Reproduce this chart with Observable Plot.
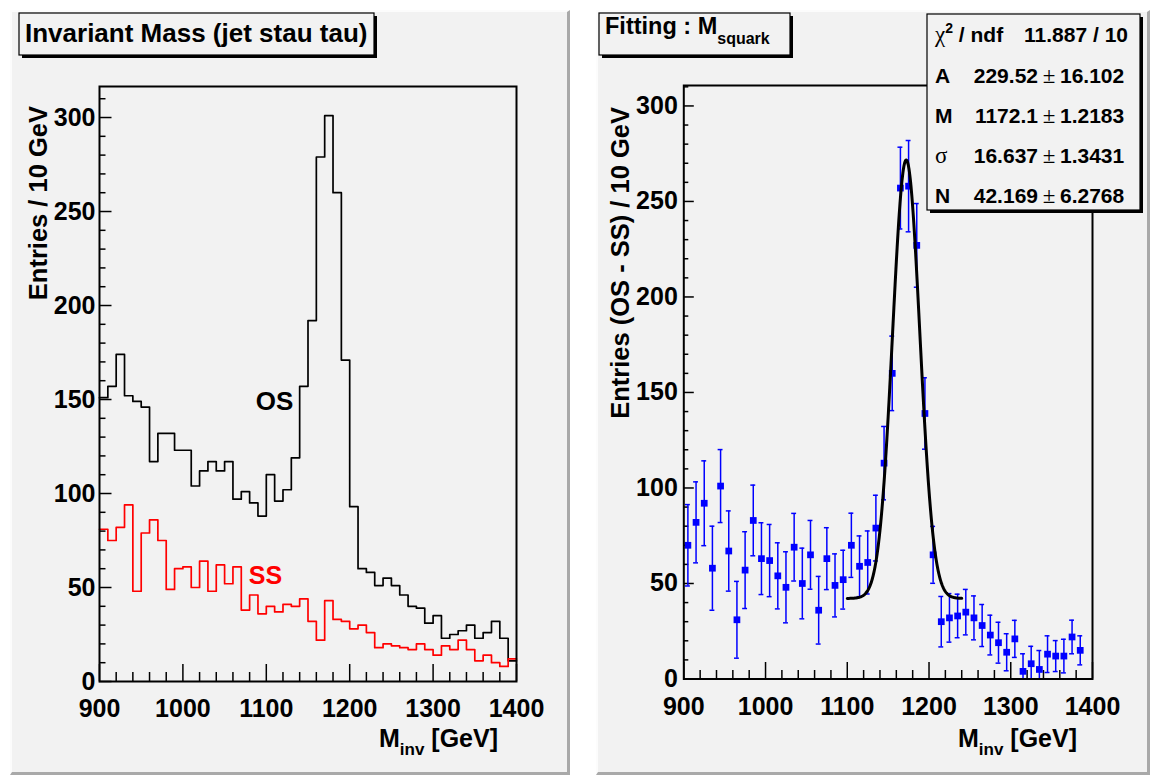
<!DOCTYPE html>
<html><head><meta charset="utf-8">
<script src="https://cdn.jsdelivr.net/npm/d3@7"></script>
<script src="https://cdn.jsdelivr.net/npm/@observablehq/plot@0.6"></script>
<style>
html,body{margin:0;padding:0;background:#ffffff;}
#root{position:relative;width:1159px;height:780px;overflow:hidden;font-family:"Liberation Sans",Arial,sans-serif;}
.pad{position:absolute;background:#f2f2f2;box-sizing:border-box;border-right:3px solid #a9a9a9;border-bottom:3px solid #a9a9a9;border-left:2px solid #fcfcfc;border-top:2px solid #fcfcfc;}
#root svg{position:absolute;left:0;top:0;}
</style></head><body><div id="root"></div>
<script>
// ---------------- data ----------------
const binStart = [900,910,920,930,940,950,960,970,980,990,1000,1010,1020,1030,1040,1050,1060,1070,1080,1090,
  1100,1110,1120,1130,1140,1150,1160,1170,1180,1190,1200,1210,1220,1230,1240,1250,1260,1270,1280,1290,
  1300,1310,1320,1330,1340,1350,1360,1370,1380,1390];
const binWidth = 10;
const osCounts = [151,157,174,152,149,146,117,132,132,123,123,104,112,117,112,117,97,101,95,88,
  110,96,102,119,157,192,279,301,260,171,93,60,58,51,55,51,46,40,39,31,
  35,23,25,27,30,23,26,32,23,11];
const ssCounts = [81,75,82,94,48,79,86,75,49,60,61,50,64,48,62,52,61,38,46,36,
  40,37,41,40,44,32,22,43,33,32,28,30,26,18,20,19,18,17,20,17,
  14,19,17,22,17,11,14,10,8,12];
const diffValues = [70,82,92,58,101,67,31,57,83,63,62,54,48,69,50,65,36,63,49,52,
  70,59,61,79,113,160,257,258,227,139,65,30,32,33,35,32,28,23,19,14,
  21,4,8,5,13,12,12,22,15,-1];
const diffErrors = [21.3,21.2,22.2,22.0,19.1,21.0,20.1,20.1,18.5,18.8,18.9,17.3,18.6,17.7,18.5,18.0,17.7,16.2,16.5,15.4,
  16.8,15.9,16.5,17.2,19.2,19.5,21.4,23.9,21.9,18.7,14.9,13.2,12.7,11.4,11.9,11.5,11.0,10.4,10.7,9.7,
  9.7,9.2,9.1,9.9,9.6,8.1,8.8,8.8,7.6,6.8];
const xMajorTicks = [900,1000,1100,1200,1300,1400];
const xMinorTicks = [920,940,960,980,1020,1040,1060,1080,1120,1140,1160,1180,1220,1240,1260,1280,1320,1340,1360,1380];
const yMajorTicks = [0,50,100,150,200,250,300];
const yMinorTicks = [10,20,30,40,60,70,80,90,110,120,130,140,160,170,180,190,210,220,230,240,260,270,280,290,310];
const histLabels = [{text:"OS", x:1110, y:149, color:"#000000", size:26},{text:"SS", x:1099, y:56, color:"#ff0000", size:25}];
// fit parameters (Gaussian + constant)
const fitA = 229.52, fitM = 1172.1, fitSigma = 16.637, fitN = 42.169;
const fitRange = [1100, 1240];
const statLabels = ["χ2 / ndf","A","M","σ","N"];
const statValues = ["11.887 / 10","229.52","1172.1","16.637","42.169"];
const statErrors = ["","16.102","1.2183","1.3431","6.2768"];

// ---------------- layout ----------------
const W = 1159, H = 780;
const root = document.getElementById("root");
function pad(l,t,w,h){const d=document.createElement("div");d.className="pad";Object.assign(d.style,{left:l+"px",top:t+"px",width:w+"px",height:h+"px"});root.appendChild(d);}
pad(10,10,560,765);
pad(596,10,554,765);

const FONT = "Liberation Sans, Arial, Helvetica, sans-serif";
const osTable = binStart.map((x,i)=>({x, y: osCounts[i]})).concat([{x: binStart[49]+binWidth, y: osCounts[49]}]);
const ssTable = binStart.map((x,i)=>({x, y: ssCounts[i]})).concat([{x: binStart[49]+binWidth, y: ssCounts[49]}]);
const diffTable = binStart.map((x,i)=>({x: x + binWidth/2, y: diffValues[i], e: diffErrors[i]})).filter(d => d.y >= 0);
const fitCurve = d3.range(fitRange[0], fitRange[1] + 0.01, 0.5).map(x => ({x, y: fitA*Math.exp(-0.5*((x-fitM)/fitSigma)**2) + fitN}));

function frameMarks(fw, fh, xMaj, xMin, yMaj, yMin, yPad){
  return [
    Plot.tickX(xMinorTicks, {x: d=>d, insetTop: fh - xMin, stroke:"black", strokeWidth:1.5}),
    Plot.tickX(xMajorTicks, {x: d=>d, insetTop: fh - xMaj, stroke:"black", strokeWidth:1.5}),
    Plot.tickY(yMinorTicks, {y: d=>d, insetRight: fw - yMin, stroke:"black", strokeWidth:1.5}),
    Plot.tickY(yMajorTicks, {y: d=>d, insetRight: fw - yMaj, stroke:"black", strokeWidth:1.5}),
    Plot.axisX({ticks: xMajorTicks, label: null, tickSize:0, tickPadding:18, tickFormat: d=>String(d), fontSize:25, fontWeight:"bold", fill:"black"}),
    Plot.axisY({ticks: yMajorTicks, label: null, tickSize:0, tickPadding:yPad, tickFormat: d=>String(d), fontSize:25, fontWeight:"bold", fill:"black"})
  ];
}

// left: histogram
const L = {l:99, r:516, t:86, b:681};
const leftPlot = Plot.plot({
  width: W, height: H,
  marginLeft: L.l, marginRight: W - L.r, marginTop: L.t, marginBottom: H - L.b,
  x: {domain:[900,1400], label: null}, y: {domain:[0,316.5], label: null},
  style: {background:"transparent", fontFamily: FONT, fontSize:"25px", fontWeight:"bold", color:"black", overflow:"visible"},
  marks: [
    ...frameMarks(L.r-L.l, L.b-L.t, 17, 9, 12.5, 6.5, 4),
    Plot.line(osTable, {x:"x", y:"y", curve:"step-after", stroke:"#000000", strokeWidth:1.7}),
    Plot.line(ssTable, {x:"x", y:"y", curve:"step-after", stroke:"#ff0000", strokeWidth:1.7}),
    Plot.text(histLabels, {x:"x", y:"y", text:"text", fill:"color", fontSize: d=>d.size, fontWeight:"bold", fontFamily: FONT}),
    Plot.frame({stroke:"black", strokeWidth:2})
  ]
});
root.appendChild(leftPlot);

// right: OS - SS with fit
const R = {l:683.3, r:1092, t:85, b:678.5};
const rightPlot = Plot.plot({
  width: W, height: H,
  marginLeft: R.l, marginRight: W - R.r, marginTop: R.t, marginBottom: H - R.b,
  x: {domain:[900,1400], label: null}, y: {domain:[0,310.7], label: null},
  style: {background:"transparent", fontFamily: FONT, fontSize:"25px", fontWeight:"bold", color:"black", overflow:"visible"},
  marks: [
    ...frameMarks(R.r-R.l, R.b-R.t, 16.5, 8.5, 10.5, 5, 6),
    Plot.ruleX(diffTable, {x:"x", y1: d=>Math.max(0, d.y - d.e), y2: d=>d.y + d.e, stroke:"#0000ff", strokeWidth:1.5}),
    Plot.ruleY(diffTable, {y: d=>d.y + d.e, x1: d=>d.x - 3, x2: d=>d.x + 3, stroke:"#0000ff", strokeWidth:1.5}),
    Plot.ruleY(diffTable.filter(d => d.y - d.e >= 0), {y: d=>d.y - d.e, x1: d=>d.x - 3, x2: d=>d.x + 3, stroke:"#0000ff", strokeWidth:1.5}),
    Plot.dot(diffTable, {x:"x", y:"y", symbol:"square", fill:"#0000ff", r:3.8}),
    Plot.line(fitCurve, {x:"x", y:"y", stroke:"#000000", strokeWidth:3}),
    Plot.frame({stroke:"black", strokeWidth:2})
  ]
});
root.appendChild(rightPlot);

// overlay: titles, axis titles, stats box
const ov = d3.select(root).append("svg").attr("width", W).attr("height", H)
  .style("font-family", FONT).style("font-weight", "bold");
function box(x,y,w,h){
  ov.append("rect").attr("x",x+3).attr("y",y+3).attr("width",w).attr("height",h).attr("fill","#000");
  ov.append("rect").attr("x",x).attr("y",y).attr("width",w).attr("height",h).attr("fill","#f2f2f2").attr("stroke","#000").attr("stroke-width",1.2);
}
box(19,13,355,42);
ov.append("text").attr("x",25).attr("y",42).attr("font-size",26).text("Invariant Mass (jet stau tau)");
box(599,13,191,42);
const t2 = ov.append("text").attr("x",605).attr("y",33.5).attr("font-size",23.5);
t2.append("tspan").text("Fitting : M");
t2.append("tspan").attr("font-size",16).attr("dy",10).text("squark");

// y titles
ov.append("text").attr("transform","translate(46.5,106) rotate(-90)").attr("text-anchor","end").attr("font-size",25.5).text("Entries / 10 GeV");
ov.append("text").attr("transform","translate(629,107) rotate(-90)").attr("text-anchor","end").attr("font-size",25.5).text("Entries (OS - SS) / 10 GeV");
// x titles
function xTitle(xEnd){
  const t = ov.append("text").attr("x",xEnd).attr("y",747).attr("text-anchor","end").attr("font-size",25);
  t.append("tspan").text("M");
  t.append("tspan").attr("font-size",17).attr("dy",8).text("inv");
  t.append("tspan").attr("dy",-8).text(" [GeV]");
}
xTitle(498);
xTitle(1077);

// stats box
box(927,14,213,196);
const rowY = [41.5, 83, 122.5, 162.5, 203];
statLabels.forEach((lab,i)=>{
  const y = rowY[i];
  if (i === 0) {
    const t = ov.append("text").attr("x",935).attr("y",y).attr("font-size",21);
    t.append("tspan").attr("font-family","Liberation Serif, serif").attr("font-weight","normal").attr("font-size",23).text("χ");
    t.append("tspan").attr("font-size",14).attr("dy",-9).text("2");
    t.append("tspan").attr("dy",9).text(" / ndf");
    ov.append("text").attr("x",1128).attr("y",y).attr("text-anchor","end").attr("font-size",21).text(statValues[i]);
  } else {
    const greek = lab === "σ";
    ov.append("text").attr("x",935).attr("y",y).attr("font-size", greek ? 23 : 21)
      .attr("font-family", greek ? "Liberation Serif, serif" : null)
      .attr("font-weight", greek ? "normal" : null).text(lab);
    ov.append("text").attr("x",1038).attr("y",y).attr("text-anchor","end").attr("font-size",21).text(statValues[i]);
    ov.append("text").attr("x",1049).attr("y",y).attr("text-anchor","middle").attr("font-size",23).attr("font-weight","normal").attr("font-family","Liberation Serif, serif").text("±");
    ov.append("text").attr("x",1060).attr("y",y).attr("font-size",21).text(statErrors[i]);
  }
});
</script></body></html>
